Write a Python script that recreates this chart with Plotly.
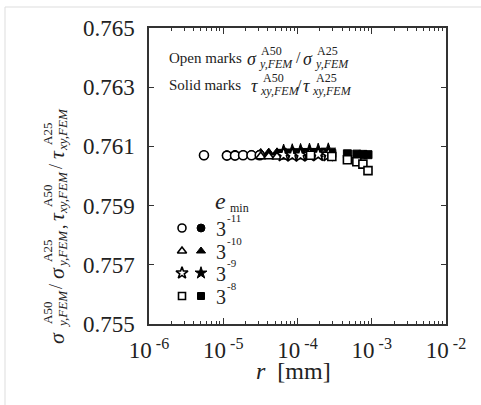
import plotly.graph_objects as go

# Radius r [mm] and FEM stress ratios (A50 / A25) for each minimum element size e_min
r_em11 = [5.5e-6, 1.12e-5, 1.44e-5, 1.85e-5, 2.4e-5, 3.1e-5]
sigma_ratio_em11 = [0.76070, 0.76069, 0.76069, 0.76070, 0.76070, 0.76070]
tau_ratio_em11 = [0.76070, 0.76070, 0.76071, 0.76071, 0.76071, 0.76072]

r_em10 = [3.2e-5, 4.1e-5, 5.3e-5, 6.9e-5, 8.9e-5, 1.15e-4]
sigma_ratio_em10 = [0.76066, 0.76066, 0.76065, 0.76065, 0.76066, 0.76066]
tau_ratio_em10 = [0.76078, 0.76079, 0.76080, 0.76080, 0.76081, 0.76081]

r_em9 = [6.5e-5, 8.5e-5, 1.1e-4, 1.45e-4, 1.9e-4, 2.6e-4]
sigma_ratio_em9 = [0.76072, 0.76071, 0.76071, 0.76072, 0.76073, 0.76072]
tau_ratio_em9 = [0.76082, 0.76083, 0.76084, 0.76085, 0.76085, 0.76086]

r_em8 = [1.5e-4, 2.9e-4, 4.7e-4, 6.3e-4, 7.6e-4, 8.9e-4]
sigma_ratio_em8 = [0.76070, 0.76066, 0.76055, 0.76048, 0.76040, 0.76018]
tau_ratio_em8 = [0.76076, 0.76076, 0.76075, 0.76074, 0.76073, 0.76072]

emin_labels = ["-11", "-10", "-9", "-8"]
x_ticks = [1e-6, 1e-5, 1e-4, 1e-3, 1e-2]
x_tick_text = ["10<sup> -6</sup>", "10<sup> -5</sup>", "10<sup> -4</sup>",
               "10<sup> -3</sup>", "10<sup> -2</sup>"]
y_ticks = [0.755, 0.757, 0.759, 0.761, 0.763, 0.765]

W, H = 481, 405
L, R, T, B = 149, 446, 28, 324
INK = "#222222"
SERIF = "Times New Roman, Liberation Serif, serif"


def px(x):
    return (x - L) / (R - L)


def py(y):
    return (B - y) / (B - T)


series = [
    (r_em11, sigma_ratio_em11, tau_ratio_em11, "circle", 9),
    (r_em10, sigma_ratio_em10, tau_ratio_em10, "triangle-up", 9),
    (r_em9, sigma_ratio_em9, tau_ratio_em9, "star", 11),
    (r_em8, sigma_ratio_em8, tau_ratio_em8, "square", 8),
]
key_sizes = [8, 8, 9, 7]

fig = go.Figure()

# solid marks (shear ratio) underneath, open marks (normal ratio) on top
for r, s, t, sym, size in series:
    fig.add_trace(go.Scatter(
        x=r, y=t, mode="markers",
        marker=dict(symbol=sym, size=size, color="black",
                    line=dict(color="black", width=1)),
        showlegend=False, hoverinfo="skip"))
for r, s, t, sym, size in series:
    fig.add_trace(go.Scatter(
        x=r, y=s, mode="markers",
        marker=dict(symbol=sym, size=size, color="white",
                    line=dict(color="black", width=1.6)),
        showlegend=False, hoverinfo="skip"))

# key for e_min, drawn on an overlay axis in paper fractions
key_rows_y = [228, 251, 273, 296]
for (r, s, t, sym, size), ks, yrow in zip(series, key_sizes, key_rows_y):
    fig.add_trace(go.Scatter(
        x=[px(182)], y=[py(yrow)], mode="markers", xaxis="x2", yaxis="y2",
        marker=dict(symbol=sym, size=ks, color="white",
                    line=dict(color="black", width=1.6)),
        showlegend=False, hoverinfo="skip"))
    fig.add_trace(go.Scatter(
        x=[px(201)], y=[py(yrow)], mode="markers", xaxis="x2", yaxis="y2",
        marker=dict(symbol=sym, size=ks, color="black",
                    line=dict(color="black", width=1)),
        showlegend=False, hoverinfo="skip"))

ann = []


def text(x, y, s, size, xanchor="center", angle=0, italic=False):
    if italic:
        s = "<i>" + s + "</i>"
    ann.append(dict(x=px(x), y=py(y), xref="paper", yref="paper", text=s,
                    showarrow=False, xanchor=xanchor, yanchor="middle",
                    textangle=angle,
                    font=dict(family=SERIF, size=size, color=INK)))


# e_min key labels
text(220, 201, "e", 24, italic=True)
text(228, 208, "min", 12, xanchor="left")
for yrow, lab in zip(key_rows_y, emin_labels):
    text(214, yrow + 1, "3", 20, xanchor="left")
    text(225, yrow - 10, lab, 11, xanchor="left")

# open / solid mark descriptions
text(167, 58, "Open marks", 15, xanchor="left")
text(167, 85, "Solid marks", 15, xanchor="left")
text(252, 59, "σ", 18, italic=True)
text(259, 51, "A50", 12, xanchor="left")
text(257, 64, "y,FEM", 12, xanchor="left", italic=True)
text(298, 58, "/", 16)
text(308, 59, "σ", 18, italic=True)
text(315, 51, "A25", 12, xanchor="left")
text(313, 64, "y,FEM", 12, xanchor="left", italic=True)
text(254, 86, "τ", 18, italic=True)
text(261, 78, "A50", 12, xanchor="left")
text(258, 91, "xy,FEM", 12, xanchor="left", italic=True)
text(299, 85, "/", 16)
text(306, 86, "τ", 18, italic=True)
text(314, 78, "A25", 12, xanchor="left")
text(310, 91, "xy,FEM", 12, xanchor="left", italic=True)

# rotated y-axis title
text(56, 338, "σ", 22, angle=-90, italic=True)
text(47, 313, "A50", 13, angle=-90)
text(62, 309, "y,FEM", 13, angle=-90, italic=True)
text(56, 287, "/", 18, angle=-90)
text(56, 273, "σ", 22, angle=-90, italic=True)
text(47, 251, "A25", 13, angle=-90)
text(62, 249, "y,FEM", 13, angle=-90, italic=True)
text(59, 227, ",", 18, angle=-90)
text(56, 217, "τ", 22, angle=-90, italic=True)
text(47, 196, "A50", 13, angle=-90)
text(62, 193, "xy,FEM", 13, angle=-90, italic=True)
text(56, 167, "/", 18, angle=-90)
text(56, 155, "τ", 22, angle=-90, italic=True)
text(47, 134, "A25", 13, angle=-90)
text(62, 130, "xy,FEM", 13, angle=-90, italic=True)

# x-axis title
text(293, 371, "<i>r</i>  [mm]", 24)

minor_vals = [m * 10.0 ** e for e in range(-6, -2) for m in range(2, 10)]

fig.update_layout(
    width=W, height=H,
    margin=dict(l=L, r=W - R, t=T, b=H - B),
    paper_bgcolor="white", plot_bgcolor="white",
    annotations=ann,
    xaxis=dict(
        type="log", range=[-6, -2], tickvals=x_ticks, ticktext=x_tick_text,
        ticks="inside", ticklen=6, tickwidth=1, tickcolor="#333",
        minor=dict(ticks="inside", ticklen=3, tickwidth=1, tickcolor="#333",
                   tickvals=minor_vals, showgrid=False),
        showline=True, linecolor="#333", linewidth=1.5, mirror="ticks",
        showgrid=False, zeroline=False,
        tickfont=dict(family=SERIF, size=23, color=INK),
        ticklabelstandoff=5,
    ),
    yaxis=dict(
        range=[0.755, 0.765], tickvals=y_ticks, tickformat=".3f",
        ticks="inside", ticklen=5, tickwidth=1, tickcolor="#333",
        showline=True, linecolor="#333", linewidth=1.5, mirror="ticks",
        showgrid=False, zeroline=False,
        tickfont=dict(family=SERIF, size=23, color=INK),
        ticklabelstandoff=8,
    ),
    xaxis2=dict(range=[0, 1], overlaying="x", visible=False, fixedrange=True),
    yaxis2=dict(range=[0, 1], overlaying="y", visible=False, fixedrange=True),
    shapes=[
        dict(type="line", xref="paper", yref="paper",
             x0=px(5), x1=px(W), y0=py(7), y1=py(7),
             line=dict(color="#dddddd", width=1)),
        dict(type="line", xref="paper", yref="paper",
             x0=px(5), x1=px(5), y0=py(7), y1=py(H),
             line=dict(color="#dddddd", width=1)),
    ],
)

fig.write_html("out.html")
